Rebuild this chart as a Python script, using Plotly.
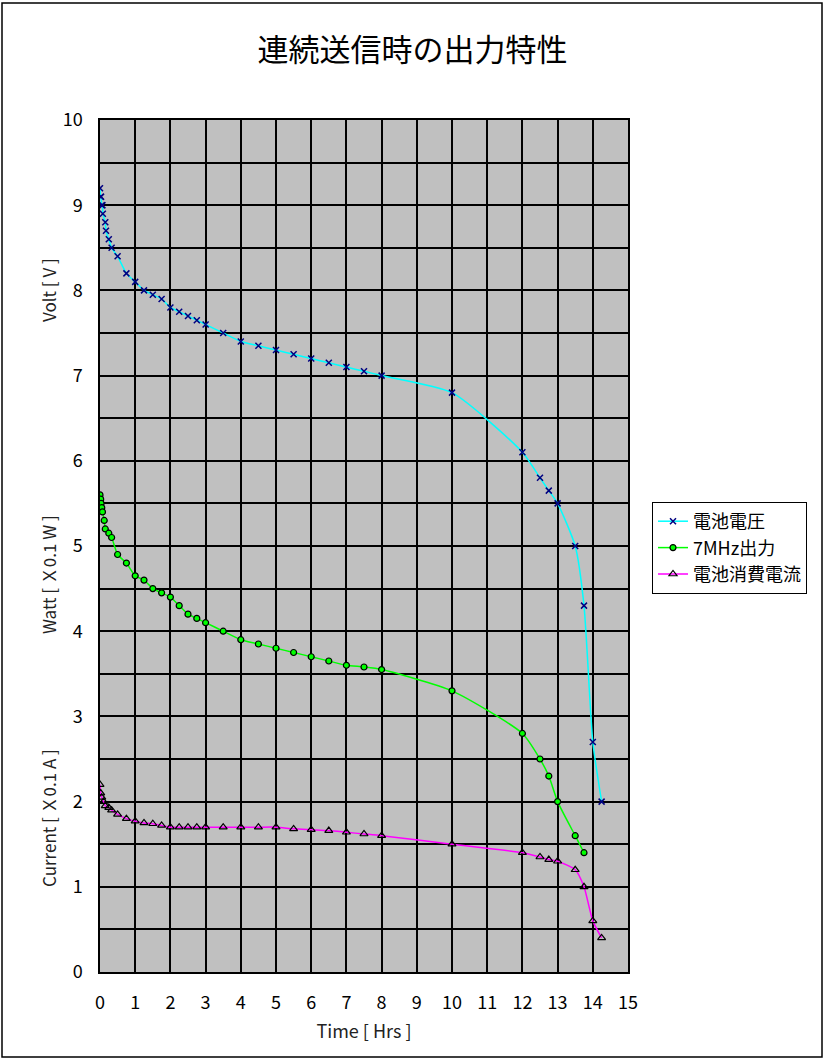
import plotly.graph_objects as go

# Battery voltage [V]
t_volt = [0, 0.02, 0.03, 0.05, 0.07, 0.08, 0.15, 0.17, 0.25, 0.33, 0.5, 0.75, 1.0,
          1.25, 1.5, 1.75, 2.0, 2.25, 2.5, 2.75, 3.0, 3.5, 4.0, 4.5, 5.0, 5.5, 6.0,
          6.5, 7.0, 7.5, 8.0, 10.0, 12.0, 12.5, 12.75, 13.0, 13.5, 13.75, 14.0, 14.25]
volt = [9.2, 9.1, 9.1, 9.0, 9.0, 8.9, 8.8, 8.7, 8.6, 8.5, 8.4, 8.2, 8.1,
        8.0, 7.95, 7.9, 7.8, 7.75, 7.7, 7.65, 7.6, 7.5, 7.4, 7.35, 7.3, 7.25, 7.2,
        7.15, 7.1, 7.05, 7.0, 6.8, 6.1, 5.8, 5.65, 5.5, 5.0, 4.3, 2.7, 2.0]

# 7 MHz RF output [x 0.1 W]
t_watt = [0, 0.02, 0.03, 0.05, 0.07, 0.12, 0.15, 0.25, 0.33, 0.5, 0.75, 1.0,
          1.25, 1.5, 1.75, 2.0, 2.25, 2.5, 2.75, 3.0, 3.5, 4.0, 4.5, 5.0, 5.5, 6.0,
          6.5, 7.0, 7.5, 8.0, 10.0, 12.0, 12.5, 12.75, 13.0, 13.5, 13.75]
watt = [5.6, 5.55, 5.5, 5.45, 5.4, 5.3, 5.2, 5.15, 5.1, 4.9, 4.8, 4.65,
        4.6, 4.5, 4.45, 4.4, 4.3, 4.2, 4.15, 4.1, 4.0, 3.9, 3.85, 3.8, 3.75, 3.7,
        3.65, 3.6, 3.58, 3.55, 3.3, 2.8, 2.5, 2.3, 2.0, 1.6, 1.4]

# Battery current drain [x 0.1 A]
t_amp = [0, 0.02, 0.05, 0.1, 0.15, 0.25, 0.33, 0.5, 0.75, 1.0, 1.25, 1.5, 1.75,
         2.0, 2.25, 2.5, 2.75, 3.0, 3.5, 4.0, 4.5, 5.0, 5.5, 6.0, 6.5, 7.0, 7.5,
         8.0, 10.0, 12.0, 12.5, 12.75, 13.0, 13.5, 13.75, 14.0, 14.25]
amp = [2.2, 2.1, 2.05, 2.0, 1.95, 1.93, 1.9, 1.85, 1.8, 1.77, 1.75, 1.74, 1.72,
       1.7, 1.7, 1.7, 1.7, 1.7, 1.7, 1.7, 1.7, 1.7, 1.68, 1.67, 1.66, 1.64, 1.62,
       1.6, 1.5, 1.4, 1.35, 1.32, 1.3, 1.2, 1.0, 0.6, 0.4]

series_names = ["電池電圧", "7MHz出力", "電池消費電流"]
x_ticks = list(range(0, 16))
y_ticks = list(range(0, 11))

FONT = "Noto Sans CJK JP"

fig = go.Figure()
fig.add_trace(go.Scatter(
    x=t_volt, y=volt, name=series_names[0], mode="lines+markers",
    line=dict(color="#00FFFF", width=1.5, shape="spline", smoothing=0.6),
    marker=dict(symbol="x-thin", size=6, line=dict(color="#000080", width=1.5)),
))
fig.add_trace(go.Scatter(
    x=t_watt, y=watt, name=series_names[1], mode="lines+markers",
    line=dict(color="#00FF00", width=1.5, shape="spline", smoothing=0.6),
    marker=dict(symbol="circle", size=6, color="#00FF00", line=dict(color="black", width=1.2)),
))
fig.add_trace(go.Scatter(
    x=t_amp, y=amp, name=series_names[2], mode="lines+markers",
    line=dict(color="#FF00FF", width=1.5, shape="spline", smoothing=0.6),
    marker=dict(symbol="triangle-up-open", size=7, color="black", line=dict(color="black", width=1.2)),
))

L, R, T, B = 100, 197, 120, 89
W, H = 825, 1061
pw, ph = W - L - R, H - T - B

def px_x(p):
    return (p - L) / pw

def px_y(p):
    return (H - B - p) / ph

fig.update_layout(
    width=W, height=H,
    margin=dict(l=L, r=R, t=T, b=B),
    paper_bgcolor="white",
    plot_bgcolor="#C0C0C0",
    font=dict(family=FONT, size=16, color="black"),
    title=dict(text="連続送信時の出力特性", x=0.5, xanchor="center", xref="container",
               y=1 - 50 / H, yanchor="middle", yref="container",
               font=dict(family=FONT, size=31, color="black")),
    showlegend=True,
    legend=dict(x=px_x(652), y=px_y(502), xanchor="left", yanchor="top",
                bgcolor="white", bordercolor="black", borderwidth=1,
                font=dict(family=FONT, size=18, color="black"),
                itemwidth=30, tracegroupgap=2),
    xaxis=dict(range=[0, 15], tickvals=x_ticks, ticks="", showline=True,
               linecolor="black", linewidth=1.5, mirror=True,
               showgrid=True, gridcolor="black", gridwidth=1.5, zeroline=False,
               ticklabelstandoff=14,
               tickfont=dict(family=FONT, size=18, color="black"),
               title=dict(text="Time [ Hrs ]", standoff=12,
                          font=dict(family=FONT, size=18, color="#222"))),
    yaxis=dict(range=[0, 10], tickvals=y_ticks, ticks="", showline=True,
               linecolor="black", linewidth=1.5, mirror=True,
               showgrid=True, gridcolor="black", gridwidth=1.5, zeroline=False,
               ticklabelstandoff=12,
               minor=dict(dtick=0.5, showgrid=True, gridcolor="black", gridwidth=1.5),
               tickfont=dict(family=FONT, size=18, color="black")),
)

# Three stacked y-axis captions, one per series
for text, yc in [("Volt [ V ]", 290), ("Watt [ Ｘ0.1 W ]", 575), ("Current [ Ｘ0.1 A ]", 818)]:
    fig.add_annotation(text=text, xref="paper", yref="paper", x=px_x(48), y=px_y(yc),
                       textangle=-90, showarrow=False, xanchor="center", yanchor="middle",
                       font=dict(family=FONT, size=17, color="#222"))

# Outer chart frame
fig.add_shape(type="rect", xref="paper", yref="paper",
              x0=px_x(2), x1=px_x(822), y0=px_y(1057), y1=px_y(3),
              line=dict(color="black", width=1.5), fillcolor="rgba(0,0,0,0)", layer="below")

fig.write_html("out.html")
